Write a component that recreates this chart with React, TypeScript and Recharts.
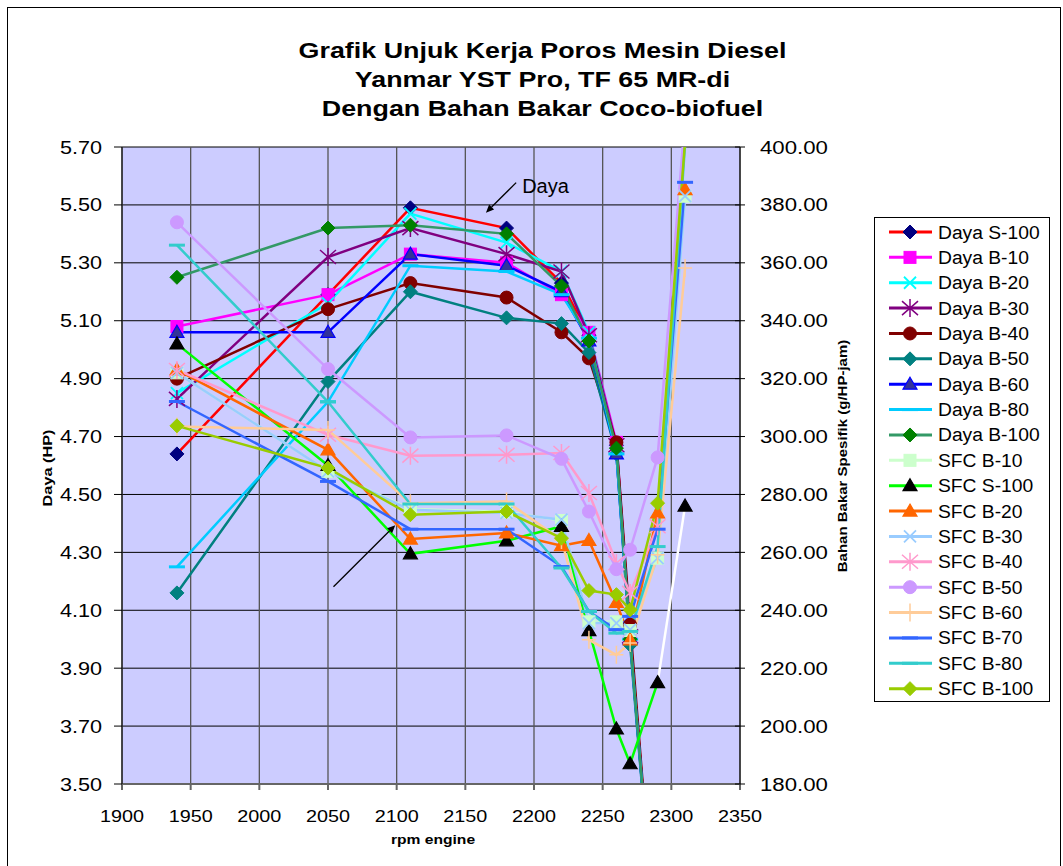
import React from "react";
import { LineChart, Line, XAxis, YAxis, CartesianGrid, ReferenceLine } from "recharts";

const FONT = "Arial, 'Liberation Sans', Helvetica, sans-serif";

// rpm engine
const rpm = [1940, 2050, 2110, 2180, 2220, 2240, 2260, 2270, 2290, 2310];

// Daya (HP) - left axis
const dayaS100 = [4.64, 5.19, 5.49, 5.42, 5.23, 5.05, 4.67, 4.02, 2.85, null];
const dayaB10 = [5.08, 5.19, 5.33, 5.3, 5.19, 5.06, 4.68, 4.01, 2.85, null];
const dayaB20 = [4.85, 5.16, 5.47, 5.37, 5.27, 5.06, 4.66, 4.0, 2.85, null];
const dayaB30 = [4.83, 5.32, 5.42, 5.33, 5.27, 5.05, 4.67, 4.01, 2.85, null];
const dayaB40 = [4.9, 5.14, 5.23, 5.18, 5.06, 4.97, 4.68, 4.05, 2.85, null];
const dayaB50 = [4.16, 4.89, 5.2, 5.11, 5.09, 4.99, 4.64, 3.98, 2.85, null];
const dayaB60 = [5.06, 5.06, 5.33, 5.29, 5.2, 5.03, 4.64, 4.0, 2.85, null];
const dayaB80 = [4.25, 4.82, 5.29, 5.27, 5.19, 5.04, 4.64, 4.0, 2.85, null];
const dayaB100 = [5.25, 5.42, 5.43, 5.4, 5.22, 5.03, 4.66, 4.0, 2.85, null];

// SFC (g/HP-jam) - right axis
const sfcB10 = [322, 288, 275, 274, 271, 236, 236, 233, 258, 383];
const sfcS100 = [332, 290, 259.5, 264, 269, 233, 199, 187, 215, null];
const sfcS100Tail = [null, null, null, null, null, null, null, null, 215, 276];
const sfcB20 = [323, 295.4, 264.6, 266.7, 262.3, 264.1, 242.7, 229.8, 273.6, 385.3];
const sfcB30 = [322, 288, 274.7, 273.6, 271.3, 235.6, 235.6, 233.3, 258, 383];
const sfcB40 = [323, 300.6, 293.4, 293.7, 294.3, 280.5, 256.3, 246, 269, 404];
const sfcB50 = [374, 323.3, 299.7, 300.4, 292.3, 274.1, 254.2, 260.9, 292.8, 410];
const sfcB60 = [303.5, 302.3, 277, 277.6, 264.3, 229.8, 224.6, 228.7, 259.2, 358.2];
const sfcB70 = [312.1, 284.5, 268, 268, 255.1, 239.6, 233.3, 237.9, 268, 387.8];
const sfcB80 = [366.1, 312, 276.7, 276.7, 254.6, 239.6, 232.1, 232.7, 262, 401];
const sfcB100 = [303.7, 289.1, 273, 274.1, 264.9, 246.8, 245.4, 240.2, 277, 402];

const xTicks = [1900, 1950, 2000, 2050, 2100, 2150, 2200, 2250, 2300, 2350];
const leftTicks = [3.5, 3.7, 3.9, 4.1, 4.3, 4.5, 4.7, 4.9, 5.1, 5.3, 5.5, 5.7];
const rightTicks = [180, 200, 220, 240, 260, 280, 300, 320, 340, 360, 380, 400];

type Shape = "diamond" | "square" | "x" | "star" | "circle" | "triangle" | "dash" | "plus";

interface Series {
  key: string;
  name: string;
  axis: "left" | "right";
  values: (number | null)[];
  line: string;
  shape: Shape;
  fill: string;
  edge: string;
  legend?: boolean;
}

const series: Series[] = [
  { key: "dayaS100", name: "Daya S-100", axis: "left", values: dayaS100, line: "#FF0000", shape: "diamond", fill: "#000080", edge: "#000080" },
  { key: "dayaB10", name: "Daya B-10", axis: "left", values: dayaB10, line: "#FF00FF", shape: "square", fill: "#FF00FF", edge: "#FF00FF" },
  { key: "dayaB20", name: "Daya B-20", axis: "left", values: dayaB20, line: "#00FFFF", shape: "x", fill: "#00FFFF", edge: "#00FFFF" },
  { key: "dayaB30", name: "Daya B-30", axis: "left", values: dayaB30, line: "#800080", shape: "star", fill: "#800080", edge: "#800080" },
  { key: "dayaB40", name: "Daya B-40", axis: "left", values: dayaB40, line: "#800000", shape: "circle", fill: "#800000", edge: "#800000" },
  { key: "dayaB50", name: "Daya B-50", axis: "left", values: dayaB50, line: "#008080", shape: "diamond", fill: "#008080", edge: "#008080" },
  { key: "dayaB60", name: "Daya B-60", axis: "left", values: dayaB60, line: "#0000FF", shape: "triangle", fill: "#333399", edge: "#0000FF" },
  { key: "dayaB80", name: "Daya B-80", axis: "left", values: dayaB80, line: "#00CCFF", shape: "dash", fill: "#00CCFF", edge: "#00CCFF" },
  { key: "dayaB100", name: "Daya B-100", axis: "left", values: dayaB100, line: "#339966", shape: "diamond", fill: "#008000", edge: "#008000" },
  { key: "sfcB10", name: "SFC B-10", axis: "right", values: sfcB10, line: "#CCFFCC", shape: "square", fill: "#CCFFCC", edge: "#CCFFCC" },
  { key: "sfcS100Tail", name: "", axis: "right", values: sfcS100Tail, line: "#FFFFFF", shape: "triangle", fill: "#000000", edge: "#000000", legend: false },
  { key: "sfcS100", name: "SFC S-100", axis: "right", values: sfcS100, line: "#00FF00", shape: "triangle", fill: "#000000", edge: "#000000" },
  { key: "sfcB20", name: "SFC B-20", axis: "right", values: sfcB20, line: "#FF6600", shape: "triangle", fill: "#FF6600", edge: "#FF6600" },
  { key: "sfcB30", name: "SFC B-30", axis: "right", values: sfcB30, line: "#99CCFF", shape: "x", fill: "#99CCFF", edge: "#99CCFF" },
  { key: "sfcB40", name: "SFC B-40", axis: "right", values: sfcB40, line: "#FF99CC", shape: "star", fill: "#FF99CC", edge: "#FF99CC" },
  { key: "sfcB50", name: "SFC B-50", axis: "right", values: sfcB50, line: "#CC99FF", shape: "circle", fill: "#CC99FF", edge: "#CC99FF" },
  { key: "sfcB60", name: "SFC B-60", axis: "right", values: sfcB60, line: "#FFCC99", shape: "plus", fill: "#FFCC99", edge: "#FFCC99" },
  { key: "sfcB70", name: "SFC B-70", axis: "right", values: sfcB70, line: "#3366FF", shape: "dash", fill: "#3366FF", edge: "#3366FF" },
  { key: "sfcB80", name: "SFC B-80", axis: "right", values: sfcB80, line: "#33CCCC", shape: "dash", fill: "#33CCCC", edge: "#33CCCC" },
  { key: "sfcB100", name: "SFC B-100", axis: "right", values: sfcB100, line: "#99CC00", shape: "diamond", fill: "#99CC00", edge: "#99CC00" },
];

const rows = rpm.map((r, i) => {
  const row: Record<string, number | null> = { rpm: r };
  series.forEach((s) => (row[s.key] = s.values[i]));
  return row;
});

function marker(shape: Shape, cx: number, cy: number, fill: string, edge: string, key?: string) {
  switch (shape) {
    case "diamond": {
      const r = 7;
      return <polygon key={key} points={`${cx},${cy - r} ${cx + r},${cy} ${cx},${cy + r} ${cx - r},${cy}`} fill={fill} stroke={edge} strokeWidth={1} />;
    }
    case "square":
      return <rect key={key} x={cx - 6} y={cy - 6} width={12} height={12} fill={fill} stroke={edge} />;
    case "circle":
      return <circle key={key} cx={cx} cy={cy} r={6.5} fill={fill} stroke={edge} />;
    case "triangle":
      return <polygon key={key} points={`${cx},${cy - 7} ${cx + 7},${cy + 5} ${cx - 7},${cy + 5}`} fill={fill} stroke={edge} strokeWidth={1.2} />;
    case "x":
      return <path key={key} d={`M${cx - 6},${cy - 6}L${cx + 6},${cy + 6}M${cx - 6},${cy + 6}L${cx + 6},${cy - 6}`} stroke={fill} strokeWidth={1.8} fill="none" />;
    case "star":
      return <path key={key} d={`M${cx - 8},${cy - 7}L${cx + 8},${cy + 7}M${cx - 8},${cy + 7}L${cx + 8},${cy - 7}M${cx},${cy - 9}L${cx},${cy + 9}`} stroke={fill} strokeWidth={1.5} fill="none" />;
    case "dash":
      return <path key={key} d={`M${cx - 8},${cy}L${cx + 8},${cy}`} stroke={fill} strokeWidth={3} fill="none" />;
    case "plus":
      return <path key={key} d={`M${cx - 7},${cy}L${cx + 7},${cy}M${cx},${cy - 9}L${cx},${cy + 9}`} stroke={fill} strokeWidth={1.5} fill="none" />;
  }
}

const makeDot = (s: Series) => (p: any) => {
  const k = `${s.key}-${p.index}`;
  if (p.cx == null || p.cy == null || p.value == null) return <g key={k} />;
  // the white tail only carries the end marker
  if (s.key === "sfcS100Tail" && p.index !== rpm.length - 1) return <g key={k} />;
  return marker(s.shape, p.cx, p.cy, s.fill, s.edge, k);
};

const XTick = (p: any) => (
  <text transform={`translate(${p.x},${p.y + 30}) scale(1.2,1)`} textAnchor="middle" fontSize={16.5} fontFamily={FONT} fill="#000">
    {p.payload.value}
  </text>
);

const LeftTick = (p: any) => (
  <text transform={`translate(${p.x - 10},${p.y + 6.5}) scale(1.17,1)`} textAnchor="end" fontSize={18.5} fontFamily={FONT} fill="#000">
    {Number(p.payload.value).toFixed(2)}
  </text>
);

const RightTick = (p: any) => (
  <g>
    <line x1={p.x - 12} x2={p.x - 7} y1={p.y} y2={p.y} stroke="#000" />
    <text transform={`translate(${p.x + 13},${p.y + 6.5}) scale(1.2,1)`} textAnchor="start" fontSize={18.5} fontFamily={FONT} fill="#000">
      {Number(p.payload.value).toFixed(2)}
    </text>
  </g>
);

const arrow = (label?: string) => (p: any) => {
  const { x1, y1, x2, y2 } = p;
  const ang = Math.atan2(y2 - y1, x2 - x1);
  const bx = x2 - 8 * Math.cos(ang);
  const by = y2 - 8 * Math.sin(ang);
  const nx = -Math.sin(ang) * 3.5;
  const ny = Math.cos(ang) * 3.5;
  return (
    <g>
      <line x1={x1} y1={y1} x2={bx} y2={by} stroke="#000" strokeWidth={1.3} />
      <polygon points={`${x2},${y2} ${bx + nx},${by + ny} ${bx - nx},${by - ny}`} fill="#000" />
      {label && (
        <text x={x1 + 6} y={y1 + 10} fontSize={20} fontFamily={FONT} fill="#000">
          {label}
        </text>
      )}
    </g>
  );
};

function Legend() {
  const items = series.filter((s) => s.legend !== false);
  return (
    <svg width={174} height={483} style={{ position: "absolute", left: 874, top: 217, background: "#fff", border: "1px solid #000" }}>
      {items.map((s, i) => {
        const y = 14 + i * 25.37;
        return (
          <g key={s.key}>
            <line x1={14} x2={57} y1={y} y2={y} stroke={s.line} strokeWidth={3} />
            {marker(s.shape, 35, y, s.fill, s.edge)}
            <text transform={`translate(63,${y + 6.5}) scale(1.07,1)`} fontSize={18} fontFamily={FONT} fill="#000">
              {s.name}
            </text>
          </g>
        );
      })}
    </svg>
  );
}

const titleLine: React.CSSProperties = {
  position: "absolute",
  left: 11,
  width: 1063,
  textAlign: "center",
  fontSize: 22,
  fontWeight: "bold",
  lineHeight: "29px",
  transform: "scaleX(1.22)",
  whiteSpace: "nowrap",
};

export default function App() {
  return (
    <div style={{ position: "absolute", left: 0, top: 0, width: 1063, height: 866, background: "#fff", overflow: "hidden", fontFamily: FONT }}>
      <div style={{ position: "absolute", left: 7, top: 7, width: 1052, height: 880, border: "1px solid #000" }} />
      <div style={{ ...titleLine, top: 36 }}>Grafik Unjuk Kerja Poros Mesin Diesel</div>
      <div style={{ ...titleLine, top: 65 }}>Yanmar YST Pro, TF 65 MR-di</div>
      <div style={{ ...titleLine, top: 94 }}>Dengan Bahan Bakar Coco-biofuel</div>

      <div style={{ position: "absolute", left: 0, top: 0 }}>
        <LineChart width={1063} height={866} data={rows} margin={{ top: 147, right: 243, bottom: 32, left: 62 }}>
          <CartesianGrid yAxisId="left" vertical={false} stroke="#000" fill="#CCCCFF" fillOpacity={1} />
          <CartesianGrid yAxisId="left" horizontal={false} stroke="#555" strokeWidth={1.3} />
          <XAxis
            dataKey="rpm"
            type="number"
            domain={[1900, 2350]}
            ticks={xTicks}
            interval={0}
            allowDataOverflow
            height={50}
            tickSize={6}
            tickMargin={2}
            tick={<XTick />}
            stroke="#666"
            strokeWidth={2}
          />
          <YAxis
            yAxisId="left"
            domain={[3.5, 5.7]}
            ticks={leftTicks}
            interval={0}
            allowDataOverflow
            width={60}
            tickSize={8}
            tickMargin={2}
            tick={<LeftTick />}
            stroke="#000"
          />
          <YAxis
            yAxisId="right"
            orientation="right"
            domain={[180, 400]}
            ticks={rightTicks}
            interval={0}
            allowDataOverflow
            width={80}
            tickSize={5}
            tickMargin={2}
            tick={<RightTick />}
            stroke="#000"
          />
          {series.map((s) => (
            <Line
              key={s.key}
              yAxisId={s.axis}
              dataKey={s.key}
              name={s.name}
              type="linear"
              stroke={s.line}
              strokeWidth={2.5}
              dot={makeDot(s)}
              activeDot={false}
              isAnimationActive={false}
            />
          ))}
          <ReferenceLine
            yAxisId="left"
            segment={[{ x: 2187, y: 5.577 }, { x: 2165, y: 5.473 }]}
            shape={arrow("Daya")}
          />
          <ReferenceLine
            yAxisId="left"
            segment={[{ x: 2054, y: 4.181 }, { x: 2099, y: 4.394 }]}
            shape={arrow()}
          />
        </LineChart>
      </div>

      <Legend />

      <div style={{ position: "absolute", left: 433, top: 840, transform: "translate(-50%,-50%) scaleX(1.25)", fontSize: 12.5, fontWeight: "bold", whiteSpace: "nowrap" }}>
        rpm engine
      </div>
      <div style={{ position: "absolute", left: 48, top: 468, transform: "translate(-50%,-50%) rotate(-90deg) scaleX(1.3)", fontSize: 12.5, fontWeight: "bold", whiteSpace: "nowrap" }}>
        Daya (HP)
      </div>
      <div style={{ position: "absolute", left: 843, top: 456, transform: "translate(-50%,-50%) rotate(-90deg) scaleX(1.25)", fontSize: 12, fontWeight: "bold", whiteSpace: "nowrap" }}>
        Bahan Bakar Spesifik (g/HP-jam)
      </div>
    </div>
  );
}
